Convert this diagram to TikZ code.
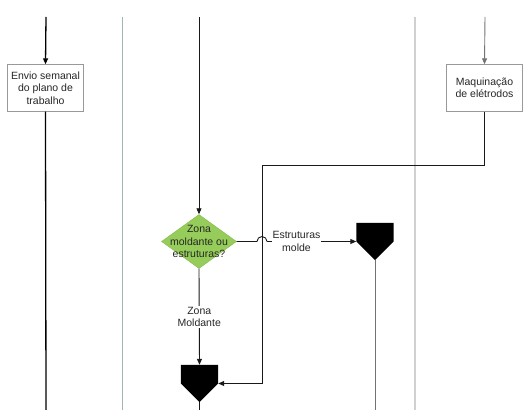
\documentclass[tikz,border=0pt]{standalone}
\usepackage{fontspec}
\setmainfont{Liberation Sans}
\usetikzlibrary{shapes.geometric,arrows.meta}
\definecolor{dgreen}{RGB}{150,205,90}
\definecolor{lanegreen}{RGB}{160,182,174}
\definecolor{lanegray}{RGB}{208,208,208}
\begin{document}
\begin{tikzpicture}[x=1pt,y=-1pt,
  txt/.style={font=\fontsize{10.5}{12.5}\selectfont, align=center, text=black!85},
  procbox/.style={txt, rectangle, draw=black!40, fill=white, minimum width=76pt, minimum height=47pt, inner sep=0pt},
  decis/.style={diamond, draw=dgreen!90!black, fill=dgreen, minimum width=75pt, minimum height=54pt, inner sep=0pt},
  merge/.style={rectangle, draw=none, minimum width=37pt, minimum height=37pt, inner sep=0pt},
  flow/.style={line width=0.9pt, draw=black!90},
  flowb/.style={line width=1.3pt, draw=black},
  flowg/.style={line width=0.9pt, draw=black!55},
  arr/.style={-{Triangle[length=6pt,width=5pt]}},
  lane/.style={line width=1.2pt},
  lbl/.style={txt, fill=white, inner sep=1pt}
]
\useasboundingbox (0,0) rectangle (531,419);

% lane separators
\coordinate (laneAt) at (122.5,17);
\coordinate (laneAb) at (122.5,410);
\coordinate (laneBt) at (415,17);
\coordinate (laneBb) at (415,410);
\draw[lane, lanegreen] (laneAt) -- (laneAb);
\draw[lane, lanegray] (laneBt) -- (laneBb);

% nodes
\node[procbox] (envio) at (45.5,88) {Envio semanal\\do plano de\\trabalho};
\node[procbox] (maq) at (484.5,88) {Maquinação\\de elétrodos};
\node[decis] (dec) at (199,241.5) {};
\node[txt] (dectxt) at (dec.center) {Zona\\moldante ou\\estruturas?};
\node[merge] (p1) at (375,241.5) {};
\node[merge] (p2) at (199.5,383.5) {};
\fill[black] (p1.north west) -- (p1.north east) -- (p1.east) -- (p1.south) -- (p1.west) -- cycle;
\fill[black] (p2.north west) -- (p2.north east) -- (p2.east) -- (p2.south) -- (p2.west) -- cycle;

% coordinates
\coordinate (topL) at (46,17);
\coordinate (botL) at (46,410);
\coordinate (topC) at (199,17);
\coordinate (botC) at (199.5,410);
\coordinate (topR) at (485,17);
\coordinate (bendA) at (262,165);
\coordinate (botP1) at (375,410);
\coordinate (jumpL) at (257,241.5);
\coordinate (jumpR) at (267,241.5);

% connectors
\draw[flowb, arr] (topL) -- (envio.north);
\draw[flowb] (envio.south) -- (botL);
\draw[flow, arr] (topC) -- (dec.north);
\draw[flowg, arr] (topR) -- (maq.north);
\draw[flow, arr] (dec.south) -- node[lbl, pos=0.5] (zm) {Zona\\Moldante} (p2.north);
\draw[flow] (p2.south) -- (botC);
\draw[flow, arr] (maq.south) |- (bendA) |- (p2.east);
\draw[flow] (dec.east) -- (jumpL) arc[start angle=180, end angle=0, radius=5pt];
\draw[flow, arr] (jumpR) -- node[lbl, pos=0.33] (em) {Estruturas\\molde} (p1.west);
\draw[flowg] (p1.south) -- (botP1);
\end{tikzpicture}
\end{document}
